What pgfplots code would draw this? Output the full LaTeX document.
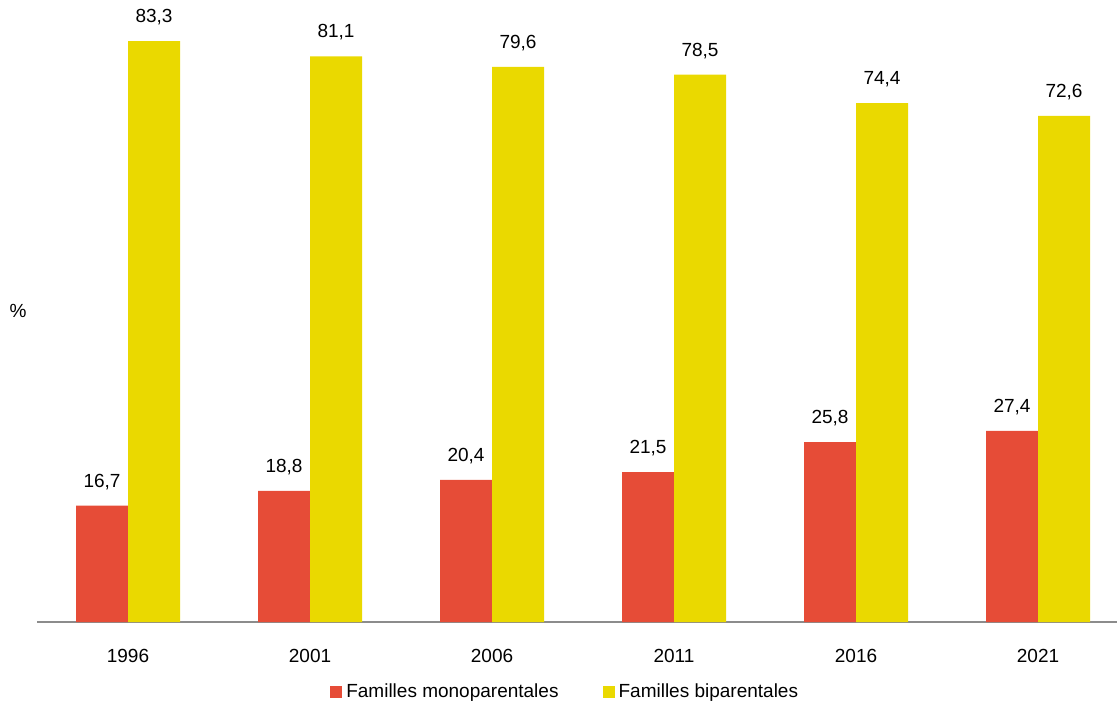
\documentclass[border=0pt]{standalone}
\usepackage{pgfplots}
\pgfplotsset{compat=1.18}
\usepackage{fontspec}
\setmainfont{Liberation Sans}
\definecolor{monored}{HTML}{E64C37}
\definecolor{biyellow}{HTML}{EAD900}
\begin{document}
\begin{tikzpicture}[x=1pt,y=1pt]
\useasboundingbox (0,0) rectangle (558.5,355.5);
\node[font=\fontsize{9.5}{11}\selectfont] at (9,200) {\%};
\begin{axis}[
  at={(18.5pt,44.5pt)}, anchor=south west,
  scale only axis, width=540pt, height=311pt,
  ybar=0pt, bar width=26pt,
  xmin=-0.5, xmax=5.434, ymin=0, ymax=89.2,
  axis x line*=bottom, axis y line=none,
  x axis line style={draw=black!45, line width=0.6pt},
  xtick={0,1,2,3,4,5},
  xticklabels={1996,2001,2006,2011,2016,2021},
  major tick length=0pt,
  tick label style={font=\fontsize{9.5}{11}\selectfont},
  x tick label style={yshift=-10pt},
  /pgf/number format/.cd, fixed, fixed zerofill, precision=1, use comma, assume math mode=true,
  /pgfplots/.cd,
  nodes near coords,
  every node near coord/.append style={font=\fontsize{9.5}{11}\selectfont, black, yshift=4.5pt},
  legend style={at={(0.49,-0.1125)}, anchor=center, draw=none, fill=none,
    legend columns=2, font=\fontsize{9.5}{11}\selectfont,
    /tikz/every even column/.append style={column sep=20pt}},
  legend image code/.code={\fill[#1] (0pt,-3pt) rectangle (6pt,3pt);},
]
\addplot[fill=monored, draw=none] coordinates {(0,16.7) (1,18.8) (2,20.4) (3,21.5) (4,25.8) (5,27.4)};
\addplot[fill=biyellow, draw=none] coordinates {(0,83.3) (1,81.1) (2,79.6) (3,78.5) (4,74.4) (5,72.6)};
\legend{Familles monoparentales, Familles biparentales}
\end{axis}
\end{tikzpicture}
\end{document}
